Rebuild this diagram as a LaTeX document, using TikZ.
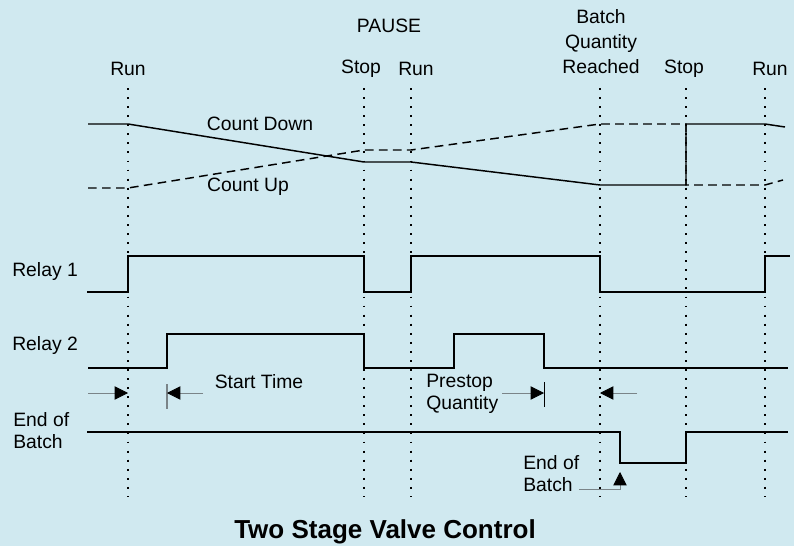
\documentclass[tikz,border=0pt]{standalone}
\usepackage{fontspec}
\setmainfont{Liberation Sans}
\usepackage{xcolor}
\usetikzlibrary{arrows.meta}
\definecolor{paleblue}{HTML}{D0E9F0}
\definecolor{guidegray}{HTML}{7A8488}

\begin{document}
\begin{tikzpicture}[x=0.75pt,y=-0.75pt,
    lbl/.style={font=\fontsize{14.5}{16.5}\selectfont,inner sep=0pt,align=center},
    signal/.style={line width=1.6pt,line join=miter},
    counter/.style={line width=1.1pt},
    guide/.style={line width=1.6pt,dash pattern=on 1.4pt off 5.4pt},
    span/.style={guidegray,line width=0.6pt,-{Triangle[length=10pt,width=10pt,black]}}]
  \fill[paleblue] (0,0) rectangle (794,546);
  \useasboundingbox (0,0) rectangle (794,546);
  % event guides
  \foreach \t/\x in {run1/128,stop1/364,run2/411,batch/600,stop2/686,run3/765}{
    \coordinate (\t) at (\x,88);
    \draw[guide] (\t) -- (\x,497);
  }
  % event labels
  \node[lbl] (lrun1) at (128,69) {Run};
  \node[lbl] (lpause) at (389,26) {PAUSE};
  \node[lbl] (lstop1) at (361,69) {Stop};
  \node[lbl] (lrun2) at (416,69) {Run};
  \node[lbl,text width=90pt] (lbatch) at (601,42) {Batch\\[2.3pt]Quantity\\[2.3pt]Reached};
  \node[lbl] (lstop2) at (684,69) {Stop};
  \node[lbl] (lrun3) at (770,69) {Run};
  % counters
  \draw[counter] (88,124) -- (128,124) -- (364,162) -- (411,162) -- (600,185)
    -- (686,185) -- (686,124) -- (765,124) -- (785,127);
  \draw[counter,dash pattern=on 6.5pt off 4pt] (88,188) -- (128,188) -- (364,150)
    -- (411,150) -- (600,124) -- (686,124) -- (686,185) -- (765,185) -- (783,180);
  \node[lbl] (cdown) at (260,124) {Count Down};
  \node[lbl] (cup) at (248,187) {Count Up};
  % relay traces
  \node[lbl,anchor=west] (relayA) at (12,272) {Relay 1};
  \draw[signal] (87,292) -- (128,292) -- (128,256) -- (364,256) -- (364,292)
    -- (411,292) -- (411,256) -- (600,256) -- (600,292) -- (765,292) -- (765,256) -- (790,256);
  \node[lbl,anchor=west] (relayB) at (12,345) {Relay 2};
  \draw[signal] (88,368) -- (167,368) -- (167,334) -- (364,334) -- (364,368)
    -- (454,368) -- (454,334) -- (544,334) -- (544,368) -- (788,368);
  \node[lbl,anchor=west,align=left] (eob) at (13,431) {End of\\Batch};
  \draw[signal] (87,432) -- (620,432) -- (620,463) -- (686,463) -- (686,432) -- (788,432);
  % timing marks
  \coordinate (startA) at (88,393);
  \coordinate (startB) at (203,393);
  \coordinate (tickB) at (167,393);
  \draw[span] (startA) -- (128,393);
  \draw[guidegray,line width=0.8pt] (167,384) -- (167,409);
  \draw[span] (startB) -- (tickB);
  \node[lbl] (starttime) at (259,382) {Start Time};
  \node[lbl,anchor=west,align=left] (prestop) at (426,394) {Prestop\\Quantity};
  \coordinate (preA) at (502,393);
  \draw[span] (preA) -- (544,393);
  \draw[line width=0.6pt] (544,382) -- (544,407);
  \coordinate (batchR) at (637,393);
  \draw[span] (batchR) -- (600,393);
  \node[lbl,anchor=west,align=left] (eobnote) at (523,474) {End of\\Batch};
  \draw[span] (eobnote.east |- 0,489) -- (620,489) -- (620,472);
  % title
  \node[font=\bfseries\fontsize{19.5}{22}\selectfont,inner sep=0pt] (title) at (385,532) {Two Stage Valve Control};
\end{tikzpicture}
\end{document}
